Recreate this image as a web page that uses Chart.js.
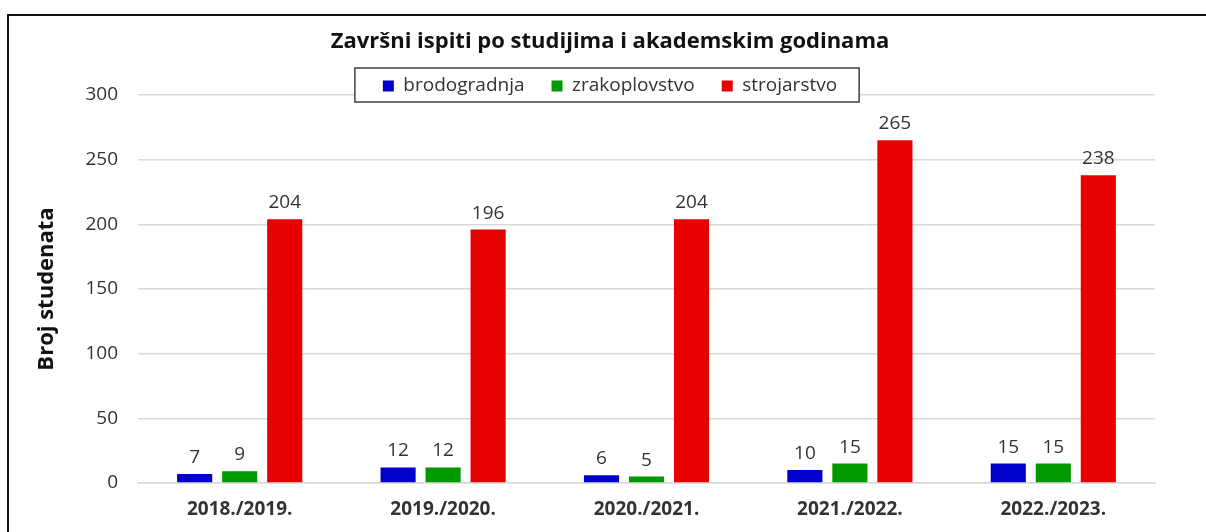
<!DOCTYPE html>
<html>
<head>
<meta charset="utf-8">
<script src="https://cdn.jsdelivr.net/npm/chart.js@4"></script>
<style>
    html, body { margin: 0; padding: 0; background: #fff; overflow: hidden; }
    #frame { position: absolute; left: 7px; top: 14px; width: 1300px; height: 600px; border: 2px solid #111; box-sizing: border-box; }
    #chart { position: absolute; left: 0; top: 0; }
</style>
</head>
<body>
<div id="frame"></div>
<canvas id="chart" width="1206" height="532"></canvas>
<script>
// Academic years
const years = ['2018./2019.', '2019./2020.', '2020./2021.', '2021./2022.', '2022./2023.'];
// Students per programme
const brodogradnja = [7, 12, 6, 10, 15];
const zrakoplovstvo = [9, 12, 5, 15, 15];
const strojarstvo = [204, 196, 204, 265, 238];
const yMin = 0, yMax = 300, yStep = 50;

const FONT = "'Open Sans', sans-serif";
const TEXT = '#333333';

// value labels above each bar
const barLabels = {
    id: 'barLabels',
    afterDatasetsDraw(chart) {
        const ctx = chart.ctx;
        ctx.save();
        ctx.font = '19px ' + FONT;
        ctx.fillStyle = TEXT;
        ctx.textAlign = 'center';
        ctx.textBaseline = 'alphabetic';
        chart.data.datasets.forEach((ds, i) => {
            chart.getDatasetMeta(i).data.forEach((bar, j) => {
                ctx.fillText(ds.data[j], bar.x, bar.y - 11);
            });
        });
        ctx.restore();
    }
};

// legend sits slightly over the plot and has a framed box
const legendBox = {
    id: 'legendBox',
    afterInit(chart) {
        const lg = chart.legend;
        const fit = lg.fit.bind(lg);
        lg.fit = function () { fit(); this.height -= 10.5; };
    },
    afterDraw(chart) {
        const lg = chart.legend;
        const hb = lg.legendHitBoxes;
        if (!hb || !hb.length) return;
        const last = hb[hb.length - 1];
        const x0 = hb[0].left - 28;
        const x1 = last.left + last.width + 22;
        const yc = hb[0].top + hb[0].height / 2;
        const ctx = chart.ctx;
        ctx.save();
        ctx.fillStyle = '#fff';
        ctx.fillRect(x0, yc - 18, x1 - x0, 34);
        ctx.strokeStyle = '#404040';
        ctx.lineWidth = 1.5;
        ctx.strokeRect(x0, yc - 18, x1 - x0, 34);
        ctx.restore();
        lg.draw();
    }
};

const ctx = document.getElementById('chart').getContext('2d');
const chart = new Chart(ctx, {
    type: 'bar',
    data: {
        labels: years,
        datasets: [
            { label: 'brodogradnja', data: brodogradnja, backgroundColor: '#0000CC' },
            { label: 'zrakoplovstvo', data: zrakoplovstvo, backgroundColor: '#009900' },
            { label: 'strojarstvo', data: strojarstvo, backgroundColor: '#E60000' }
        ]
    },
    options: {
        responsive: false,
        animation: false,
        categoryPercentage: 0.664,
        barPercentage: 0.78,
        layout: { padding: { left: 65, right: 51, top: 0, bottom: 0 } },
        plugins: {
            tooltip: { enabled: false },
            title: {
                display: true,
                text: 'Završni ispiti po studijima i akademskim godinama',
                color: '#111',
                font: { family: FONT, size: 22, weight: 'bold' },
                padding: { top: 29, bottom: -5.9 }
            },
            legend: {
                display: true,
                position: 'top',
                labels: {
                    color: TEXT,
                    font: { family: FONT, size: 19 },
                    boxWidth: 11,
                    boxHeight: 11,
                    padding: 27
                }
            }
        },
        scales: {
            x: {
                grid: { display: false, drawTicks: false },
                border: { display: true, color: '#d9d9d9', width: 1.5 },
                ticks: { color: TEXT, padding: 15, font: { family: FONT, size: 19, weight: 'bold' } },
                afterFit(scale) { scale.height = 49; }
            },
            y: {
                min: yMin,
                max: yMax,
                grid: { color: '#d9d9d9', lineWidth: 1.5, drawTicks: false },
                border: { display: false },
                ticks: { stepSize: yStep, color: TEXT, padding: 20, font: { family: FONT, size: 19 } },
                title: {
                    display: true,
                    text: 'Broj studenata',
                    color: '#111',
                    font: { family: FONT, size: 22, weight: 'bold' },
                    padding: { top: -31.2, bottom: 0 }
                },
                afterFit(scale) { scale.width = 73; }
            }
        }
    },
    plugins: [barLabels, legendBox]
});
</script>
</body>
</html>
